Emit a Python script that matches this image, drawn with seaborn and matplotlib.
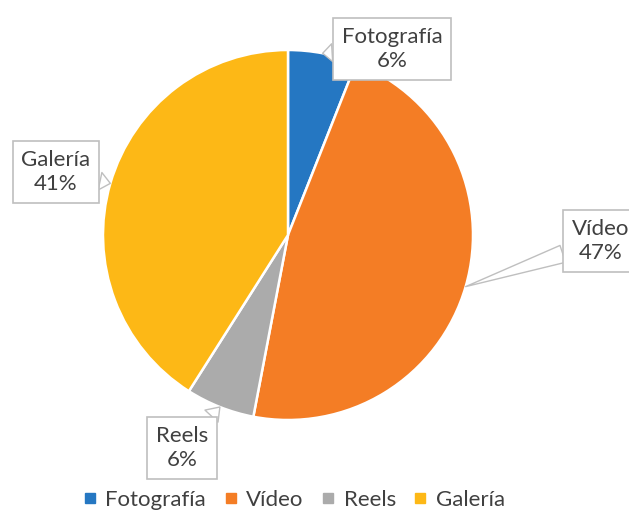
import matplotlib
matplotlib.use('Agg')
import numpy as np
import matplotlib.pyplot as plt
import seaborn as sns
from matplotlib.lines import Line2D

# data
categories = ['Fotografía', 'Vídeo', 'Reels', 'Galería']
shares = [6, 47, 6, 41]
colors = ['#2577C2', '#F47D25', '#ABABAB', '#FDB816']

# label box centres in pixels (x, y from top)
label_pos = [(392, 49), (601, 241), (182, 448), (56, 172)]

W, H = 629, 513
sns.set_theme(style='white')
plt.rcParams['font.family'] = ['Lato', 'DejaVu Sans']

fig = plt.figure(figsize=(W / 100, H / 100), dpi=100)
ax = fig.add_axes([0, 0, 1, 1])
ax.axis('off')

cx, cy, r = 288, H - 235, 185
wedges, _ = ax.pie(shares, colors=colors, startangle=90, counterclock=False,
                   center=(cx, cy), radius=r,
                   wedgeprops=dict(edgecolor='white', linewidth=1.8))
ax.set_xlim(0, W)
ax.set_ylim(0, H)
ax.set_aspect('equal')

# callout labels
for w, name, val, (lx, ly) in zip(wedges, categories, shares, label_pos):
    ang = np.deg2rad((w.theta1 + w.theta2) / 2)
    tip = (cx + r * np.cos(ang), cy + r * np.sin(ang))
    ax.annotate(f'{name}\n{val}%', xy=tip, xytext=(lx, H - ly),
                ha='center', va='center', fontsize=16, color='#404040',
                linespacing=1.3,
                bbox=dict(boxstyle='square,pad=0.4', fc='white',
                          ec='#BFBFBF', lw=1.2),
                arrowprops=dict(arrowstyle='wedge,tail_width=0.8,shrink_factor=0.5',
                                fc='white', ec='#BFBFBF', lw=1.0,
                                shrinkA=0, shrinkB=0))

# legend
handles = [Line2D([0], [0], marker='s', linestyle='', markersize=6.5,
                  markerfacecolor=c, markeredgecolor=c) for c in colors]
fig.legend(handles, categories, loc='center', ncol=4,
           bbox_to_anchor=(293 / W, 1 - 500 / H), frameon=False,
           fontsize=16, labelcolor='#404040', handletextpad=0.3,
           columnspacing=0.7, handlelength=0.8, borderpad=0.1)

fig.savefig('out.png', dpi=100)
